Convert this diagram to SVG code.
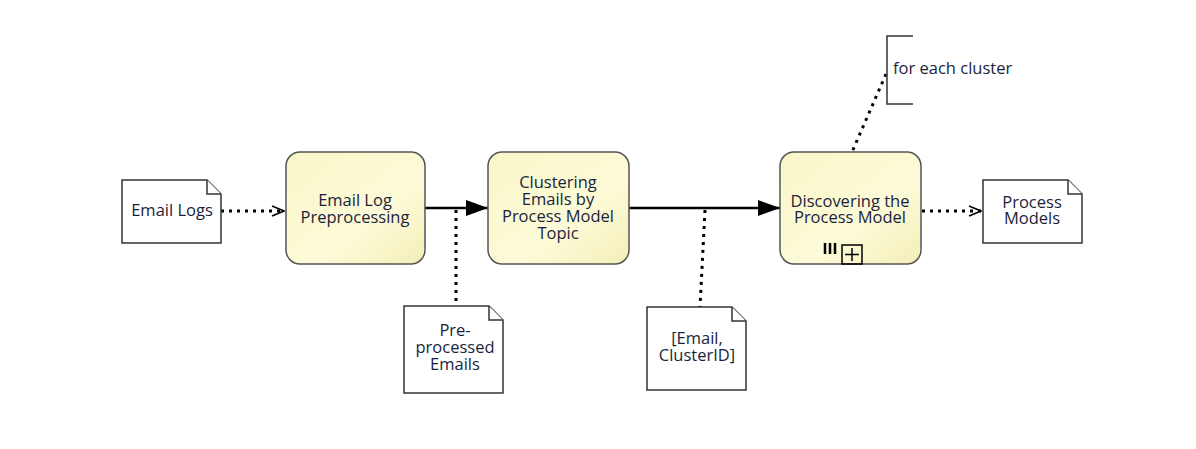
<svg xmlns="http://www.w3.org/2000/svg" width="1196" height="449" viewBox="0 0 1196 449">
<defs>
<linearGradient id="yg" x1="0" y1="0" x2="1" y2="1">
<stop offset="0" stop-color="#f9f6c8"/>
<stop offset="0.6" stop-color="#fdfbd8"/>
<stop offset="1" stop-color="#f3eeb8"/>
</linearGradient>
<marker id="filled" markerWidth="22" markerHeight="16" refX="22" refY="8" orient="auto" markerUnits="userSpaceOnUse">
<path d="M0,0 L22,8 L0,16 Z" fill="#000"/>
</marker>
<marker id="open" markerWidth="14" markerHeight="12" refX="13" refY="6" orient="auto" markerUnits="userSpaceOnUse">
<path d="M1,1 L13,6 L1,11" fill="none" stroke="#000" stroke-width="1.5"/>
</marker>
</defs>
<style>
.task{fill:url(#yg);stroke:#555;stroke-width:1.5}
.doc{fill:#fff;stroke:#333;stroke-width:1.5}
.t{font-family:"Open Sans",sans-serif;font-size:16.5px;fill:#1a1f3c;text-anchor:middle}
.flow{stroke:#000;stroke-width:2.5;fill:none}
.dot{stroke:#000;stroke-width:3;stroke-dasharray:3,5;fill:none}
</style>
<rect width="1196" height="449" fill="#fff"/>
<g id="connectors">
<path class="dot" d="M221,211 L284,211" marker-end="url(#open)"/>
<path class="flow" d="M425,208 L488,208" marker-end="url(#filled)"/>
<path class="flow" d="M629,208 L780,208" marker-end="url(#filled)"/>
<path class="dot" d="M456,210 L456,305"/>
<path class="dot" d="M705,210 L700,307"/>
<path class="dot" d="M922,211 L981,211" marker-end="url(#open)"/>
<path class="dot" d="M886,74 L852,152"/>
</g>
<g id="email-logs">
<path class="doc" d="M122,180 L207,180 L221,194 L221,243 L122,243 Z"/>
<path class="doc" d="M207,180 L207,194 L221,194" fill="none"/>
<text class="t" x="172" y="216">Email Logs</text>
</g>
<g id="email-log-preprocessing">
<rect class="task" x="286" y="152" width="139" height="112" rx="14"/>
<text class="t" x="355" y="206">Email Log</text>
<text class="t" x="355" y="223">Preprocessing</text>
</g>
<g id="clustering">
<rect class="task" x="488" y="152" width="141" height="112" rx="14"/>
<text class="t" x="558" y="188">Clustering</text>
<text class="t" x="558" y="205">Emails by</text>
<text class="t" x="558" y="222">Process Model</text>
<text class="t" x="558" y="239">Topic</text>
</g>
<g id="discovering">
<rect class="task" x="780" y="152" width="141" height="112" rx="14"/>
<text class="t" x="850" y="207">Discovering the</text>
<text class="t" x="850" y="223">Process Model</text>
<path d="M825,243 V254 M830,243 V254 M835,243 V254" stroke="#000" stroke-width="2.5"/>
<rect x="842" y="245" width="20" height="19" fill="none" stroke="#000" stroke-width="1.5"/>
<path d="M845,254.5 H859 M852,248 V261" stroke="#000" stroke-width="1.5"/>
</g>
<g id="process-models">
<path class="doc" d="M983,180 L1068,180 L1082,194 L1082,243 L983,243 Z"/>
<path class="doc" d="M1068,180 L1068,194 L1082,194" fill="none"/>
<text class="t" x="1032" y="208">Process</text>
<text class="t" x="1032" y="224">Models</text>
</g>
<g id="preprocessed-emails">
<path class="doc" d="M404,306 L489,306 L503,320 L503,393 L404,393 Z"/>
<path class="doc" d="M489,306 L489,320 L503,320" fill="none"/>
<text class="t" x="455" y="336">Pre-</text>
<text class="t" x="455" y="353">processed</text>
<text class="t" x="455" y="370">Emails</text>
</g>
<g id="email-clusterid">
<path class="doc" d="M647,307 L732,307 L746,321 L746,390 L647,390 Z"/>
<path class="doc" d="M732,307 L732,321 L746,321" fill="none"/>
<text class="t" x="697" y="344">[Email,</text>
<text class="t" x="697" y="361">ClusterID]</text>
</g>
<g id="annotation">
<path d="M913,36 L887,36 L887,104 L913,104" fill="none" stroke="#333" stroke-width="1.5"/>
<text class="t" x="893" y="74" style="text-anchor:start">for each cluster</text>
</g>
</svg>
